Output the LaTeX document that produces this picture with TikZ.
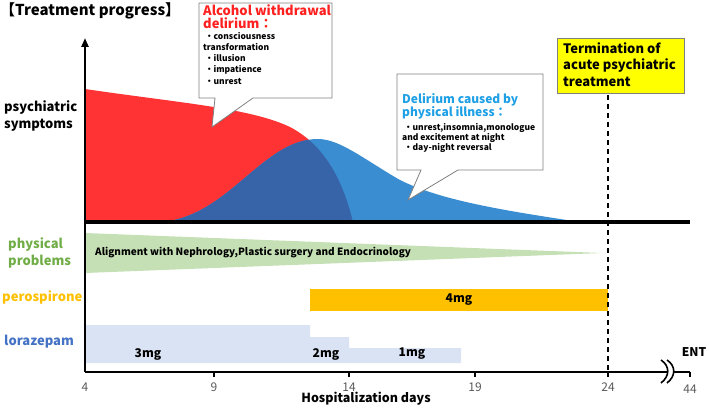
\documentclass[tikz,border=0pt]{standalone}
\usepackage{fontspec}
\setmainfont{Noto Sans CJK JP}
\usetikzlibrary{arrows.meta}
\definecolor{sred}{HTML}{FF3333}
\definecolor{sblue}{HTML}{3A8DD0}
\definecolor{sdark}{HTML}{3763A8}
\definecolor{sgreen}{HTML}{C5E0B4}
\definecolor{tgreen}{HTML}{70AD47}
\definecolor{sorange}{HTML}{FFC000}
\definecolor{slight}{HTML}{DAE3F3}
\definecolor{tblue}{HTML}{4472C4}
\definecolor{tcyan}{HTML}{1EA0E6}
\definecolor{tred}{HTML}{FF2020}
\definecolor{tgray}{HTML}{595959}
\definecolor{yel}{HTML}{FFFF00}
\tikzset{
  lbl/.style={anchor=west,align=left,inner sep=0,font=\bfseries\fontsize{13}{17}\selectfont},
  calloutbox/.style={draw=gray,fill=white,line width=0.8pt,line join=miter},
  ctitle/.style={anchor=north west,align=left,inner sep=0,font=\bfseries\fontsize{12}{13.5}\selectfont},
  citems/.style={anchor=north west,align=left,inner sep=0,font=\bfseries\fontsize{8.5}{11.2}\selectfont},
  ticklbl/.style={text=tgray,font=\fontsize{12}{14}\selectfont,inner sep=0},
  dose/.style={font=\bfseries\fontsize{12}{14}\selectfont,inner sep=0},
}
\begin{document}
\begin{tikzpicture}[x=1pt,y=-1pt]
\useasboundingbox (0,0) rectangle (709,409);
% axes coordinates
\coordinate (O) at (85,372);
\coordinate (Ytop) at (85,38);
\coordinate (Xend) at (690,372);
\coordinate (B0) at (85,222);
\coordinate (B1) at (690,222);
% areas
\def\redpath{(85,222) -- (85,89) .. controls (180,103) and (250,108) .. (290,127) .. controls (330,148) and (345,190) .. (353,222) -- cycle}
\def\bluepath{(160,222) .. controls (228,218) and (262,139) .. (318,139) .. controls (340,139) and (365,160) .. (400,180) .. controls (440,200) and (500,210) .. (580,222) -- cycle}
\fill[sred] \redpath;
\fill[sblue] \bluepath;
\begin{scope}
\clip \redpath;
\fill[sdark] \bluepath;
\end{scope}
% green wedge
\fill[sgreen] (85,233) -- (602,253) -- (85,273) -- cycle;
\node[anchor=west,inner sep=0,font=\bfseries\fontsize{10}{11}\selectfont] (align) at (95,253) {Alignment with Nephrology,Plastic surgery and Endocrinology};
% perospirone bar
\fill[sorange] (310,289) rectangle (608,311);
\node[dose] (d4) at (459,300) {4mg};
% lorazepam steps
\fill[slight] (85,325) -- (310,325) -- (310,337) -- (349,337) -- (349,348) -- (461,348) -- (461,363) -- (85,363) -- cycle;
\node[dose] (d3) at (148,354) {3mg};
\node[dose] (d2) at (326,354) {2mg};
\node[dose] (d1) at (412,354) {1mg};
% baseline and axes
\draw[line width=3.5pt] (B0) -- (B1);
\draw[line width=2pt] (O) -- (Xend);
\draw[line width=2.6pt,-{Triangle[length=9pt,width=7pt]}] (O) -- (Ytop);
\foreach \x in {214,349,475,608,690} \draw[line width=1.2pt] (\x,372) -- (\x,377);
% break mark
\fill[white] (661,360) .. controls (670,366) and (670,376) .. (661,383) -- (667,383) .. controls (676,376) and (676,366) .. (667,360) -- cycle;
\draw[line width=1.6pt] (661,360) .. controls (670,366) and (670,376) .. (661,383);
\draw[line width=1.6pt] (667,360) .. controls (676,366) and (676,376) .. (667,383);
% tick labels
\node[ticklbl] (t4) at (85,387) {4};
\node[ticklbl] (t9) at (214,387) {9};
\node[ticklbl] (t14) at (349,387) {14};
\node[ticklbl] (t19) at (475,387) {19};
\node[ticklbl] (t24) at (608,387) {24};
\node[ticklbl] (t44) at (690,389) {44};
\node[inner sep=0,font=\bfseries\fontsize{12.5}{14}\selectfont] (xlab) at (366,399) {Hospitalization days};
\node[inner sep=0,font=\bfseries\fontsize{12}{14}\selectfont] (ent) at (694,352) {ENT};
% dashed termination line
\coordinate (Dtop) at (608,95);
\coordinate (Dbot) at (608,372);
\draw[line width=1.3pt,dash pattern=on 5pt off 4pt] (Dtop) -- (Dbot);
% yellow box
\node[draw=gray,fill=yel,line width=0.8pt,minimum width=127pt,minimum height=55pt,anchor=north west,inner sep=0] (term) at (557,38) {};
\node[anchor=north west,align=left,inner sep=0,font=\bfseries\fontsize{13}{16.5}\selectfont] (termt) at (563,42) {Termination of\\acute psychiatric\\treatment};
% callout 1
\draw[calloutbox] (199,3) -- (332,3) -- (332,98) -- (253,98) -- (212,127) -- (215,98) -- (199,98) -- cycle;
\node[ctitle,text=tred,font=\bfseries\fontsize{13}{13.5}\selectfont] (c1t) at (203,4) {Alcohol withdrawal\\delirium：};
\node[citems] (c1i) at (203,32) {\ ・consciousness\\transformation\\\ ・illusion\\\ ・impatience\\\ ・unrest};
% callout 2
\draw[calloutbox] (397,74) -- (543,74) -- (543,170) -- (458,170) -- (408,200) -- (421,170) -- (397,170) -- cycle;
\node[ctitle,text=tcyan] (c2t) at (402,93) {Delirium caused by\\physical illness：};
\node[citems,font=\bfseries\fontsize{8.5}{10.3}\selectfont] (c2i) at (402,123) {\ ・unrest,insomnia,monologue\\and excitement at night\\\ ・day-night reversal};
% left labels
\node[anchor=north west,inner sep=0,font=\bfseries\fontsize{15}{16}\selectfont] (title) at (0,2) {【Treatment progress】};
\node[lbl] (psy) at (4,116) {psychiatric\\symptoms};
\node[lbl,text=tgreen] (phys) at (8,253) {physical\\problems};
\node[lbl,text=sorange] (pero) at (2,297) {perospirone};
\node[lbl,text=tblue] (lora) at (4,342) {lorazepam};
\end{tikzpicture}
\end{document}
